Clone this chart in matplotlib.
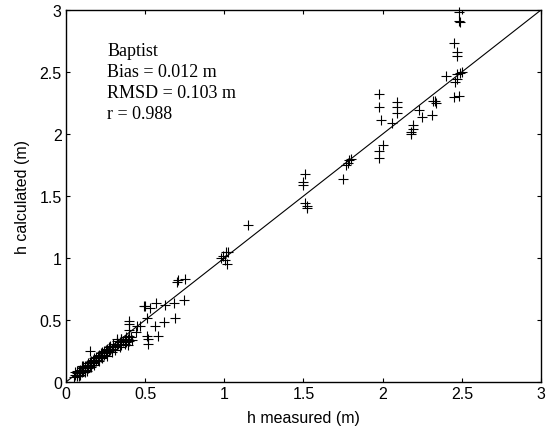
import matplotlib
matplotlib.use('Agg')
import matplotlib.pyplot as plt
import numpy as np

# measured vs calculated water depth (m)
h_meas_low = [0.05, 0.06, 0.06, 0.07, 0.07, 0.08, 0.08, 0.09, 0.09, 0.10,
              0.10, 0.11, 0.11, 0.12, 0.12, 0.13, 0.13, 0.14, 0.14, 0.15,
              0.15, 0.16, 0.16, 0.17, 0.17, 0.18, 0.18, 0.19, 0.19, 0.20,
              0.20, 0.21, 0.21, 0.22, 0.22, 0.23, 0.23, 0.24, 0.24, 0.25,
              0.25, 0.26, 0.26, 0.27, 0.27, 0.28, 0.28, 0.29, 0.30, 0.30,
              0.31, 0.32, 0.32, 0.33, 0.34, 0.35, 0.35, 0.36, 0.37, 0.38,
              0.38, 0.39, 0.40, 0.40, 0.41, 0.42, 0.08, 0.10, 0.12, 0.14,
              0.07, 0.09, 0.11, 0.13, 0.16, 0.18, 0.21, 0.23, 0.26, 0.29,
              0.31, 0.34, 0.37, 0.39]
h_calc_low = [0.04, 0.06, 0.08, 0.05, 0.07, 0.06, 0.09, 0.07, 0.10, 0.08,
              0.11, 0.09, 0.12, 0.10, 0.13, 0.11, 0.14, 0.12, 0.15, 0.13,
              0.16, 0.14, 0.17, 0.15, 0.18, 0.16, 0.19, 0.17, 0.20, 0.18,
              0.21, 0.19, 0.22, 0.20, 0.23, 0.21, 0.24, 0.22, 0.25, 0.23,
              0.26, 0.24, 0.27, 0.25, 0.28, 0.26, 0.29, 0.27, 0.28, 0.31,
              0.29, 0.30, 0.33, 0.31, 0.32, 0.30, 0.35, 0.33, 0.34, 0.36,
              0.32, 0.35, 0.33, 0.37, 0.36, 0.34, 0.05, 0.13, 0.08, 0.11,
              0.09, 0.06, 0.13, 0.09, 0.12, 0.14, 0.17, 0.19, 0.21, 0.24,
              0.26, 0.28, 0.31, 0.30]

h_meas_mid = [0.15, 0.32, 0.35, 0.40, 0.40, 0.40, 0.44, 0.45, 0.47, 0.49,
              0.50, 0.51, 0.51, 0.52, 0.52, 0.53, 0.56, 0.57, 0.58, 0.62,
              0.625, 0.685, 0.69, 0.70, 0.71, 0.745, 0.75]
h_calc_mid = [0.25, 0.35, 0.35, 0.49, 0.47, 0.42, 0.40, 0.45, 0.45, 0.615,
              0.615, 0.52, 0.37, 0.35, 0.31, 0.60, 0.45, 0.64, 0.37, 0.48,
              0.62, 0.64, 0.52, 0.81, 0.82, 0.66, 0.83]

h_meas_high = [0.98, 0.99, 1.005, 1.01, 1.015, 1.025, 1.15,
               1.50, 1.50, 1.51, 1.51, 1.52, 1.52, 1.75, 1.77, 1.78, 1.79,
               1.80, 1.98, 1.98, 1.98, 1.98, 1.99, 2.00, 2.06, 2.09, 2.09,
               2.09, 2.18, 2.18, 2.19, 2.19, 2.23, 2.25, 2.31, 2.32, 2.33,
               2.34, 2.40, 2.45, 2.45, 2.46, 2.47, 2.47, 2.47, 2.48, 2.48,
               2.49, 2.49, 2.50, 2.48, 2.47]
h_calc_high = [1.00, 1.02, 0.985, 1.05, 0.95, 1.046, 1.27,
               1.61, 1.59, 1.68, 1.44, 1.42, 1.40, 1.64, 1.75, 1.77, 1.79,
               1.80, 2.32, 2.22, 1.86, 1.81, 2.11, 1.91, 2.09, 2.26, 2.22,
               2.17, 2.02, 2.00, 2.07, 2.04, 2.19, 2.14, 2.15, 2.27, 2.27,
               2.25, 2.47, 2.73, 2.30, 2.42, 2.66, 2.63, 2.44, 2.31, 2.98,
               2.90, 2.49, 2.50, 2.91, 2.48]

h_meas = h_meas_low + h_meas_mid + h_meas_high
h_calc = h_calc_low + h_calc_mid + h_calc_high

ticks = [0, 0.5, 1, 1.5, 2, 2.5, 3]
tick_labels = ['0', '0.5', '1', '1.5', '2', '2.5', '3']
stats_text = 'Baptist\nBias = 0.012 m\nRMSD = 0.103 m\nr = 0.988'

plt.rcParams['font.family'] = 'Liberation Sans'

fig = plt.figure(figsize=(5.54, 4.35), dpi=100)
ax = fig.add_axes([0.1191, 0.1195, 0.8574, 0.8552])

ax.plot(h_meas, h_calc, '+', color='black', markersize=7, markeredgewidth=0.8,
        clip_on=False)
ax.plot([0, 3], [0, 3], '-', color='black', linewidth=0.8)

ax.set_xlim(0, 3)
ax.set_ylim(0, 3)
ax.set_xticks(ticks)
ax.set_xticklabels(tick_labels)
ax.set_yticks(ticks)
ax.set_yticklabels(tick_labels)
ax.tick_params(direction='in', length=3, width=0.8, top=True, right=True,
               labelsize=11.5, pad=3)
for s in ax.spines.values():
    s.set_linewidth(1.0)

ax.set_xlabel('h measured (m)', fontsize=11.5, labelpad=6)
ax.set_ylabel('h calculated (m)', fontsize=11.5, labelpad=7)

ax.text(0.26, 2.74, stats_text, fontsize=13, family='Liberation Serif',
        va='top', ha='left', linespacing=1.3)

fig.savefig('out.png', dpi=100)
